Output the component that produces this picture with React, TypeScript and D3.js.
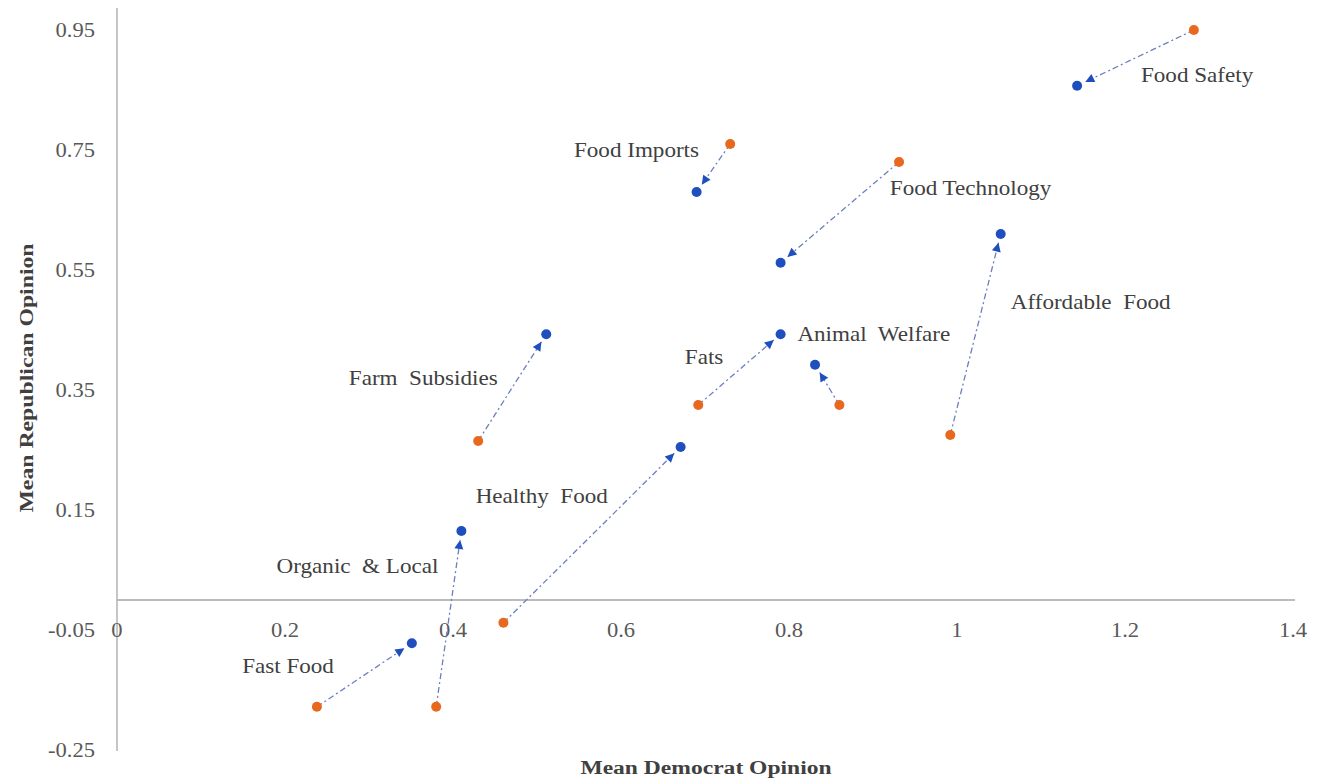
import React from "react";
import * as d3 from "d3";

const topics = [
  "Food Safety",
  "Food Imports",
  "Food Technology",
  "Affordable  Food",
  "Farm  Subsidies",
  "Fats",
  "Animal  Welfare",
  "Healthy  Food",
  "Organic  & Local",
  "Fast Food",
];
// start (orange) points
const startDem = [1.282, 0.73, 0.931, 0.992, 0.43, 0.692, 0.86, 0.46, 0.38, 0.238];
const startRep = [0.95, 0.76, 0.73, 0.275, 0.265, 0.325, 0.325, -0.038, -0.178, -0.178];
// end (blue) points
const endDem = [1.143, 0.69, 0.79, 1.052, 0.511, 0.79, 0.831, 0.671, 0.41, 0.351];
const endRep = [0.857, 0.68, 0.562, 0.61, 0.443, 0.443, 0.392, 0.255, 0.115, -0.072];
// label anchor in data units
const labelDem = [1.219, 0.544, 0.92, 1.064, 0.276, 0.676, 0.81, 0.427, 0.19, 0.149];
const labelRep = [0.875, 0.75, 0.687, 0.497, 0.37, 0.405, 0.443, 0.173, 0.057, -0.11];

const xTicks = [0, 0.2, 0.4, 0.6, 0.8, 1, 1.2, 1.4];
const yTicks = [-0.25, -0.05, 0.15, 0.35, 0.55, 0.75, 0.95];

const W = 1327;
const H = 780;
const FONT = "'Liberation Serif', 'Times New Roman', serif";
const ORANGE = "#E8681E";
const BLUE = "#1F4FBF";
const LINE = "#6C7FC0";
const AXIS = "#A6A6A6";
const SX = 1.1;

export default function App() {
  const x = d3.scaleLinear().domain([0, 1.4]).range([117, 1293]);
  const y = d3.scaleLinear().domain([-0.25, 0.95]).range([750, 30]);

  const pairs = topics.map((t, i) => {
    const x1 = x(startDem[i]);
    const y1 = y(startRep[i]);
    const x2 = x(endDem[i]);
    const y2 = y(endRep[i]);
    const len = Math.hypot(x2 - x1, y2 - y1);
    const ux = (x2 - x1) / len;
    const uy = (y2 - y1) / len;
    const gap = 9;
    return { t, x1, y1, x2, y2, ex: x2 - ux * gap, ey: y2 - uy * gap, ux, uy, i };
  });

  return (
    <svg
      width={W}
      height={H}
      style={{ position: "absolute", left: 0, top: 0, display: "block", background: "#fff" }}
    >
      {/* axes */}
      <line x1={x(0)} x2={x(0)} y1={8} y2={751} stroke={AXIS} strokeWidth={1.3} />
      <line x1={x(0)} x2={x(1.4) + 2} y1={y(0)} y2={y(0)} stroke={AXIS} strokeWidth={1.3} />

      {yTicks.map((v) => (
        <text
          key={"y" + v}
          transform={`translate(95,${y(v)}) scale(1.13,1)`}
          textAnchor="end"
          dominantBaseline="central"
          fontFamily={FONT}
          fontSize={20}
          fill="#595959"
        >
          {String(v)}
        </text>
      ))}
      {xTicks.map((v) => (
        <text
          key={"x" + v}
          transform={`translate(${x(v)},${y(-0.05)}) scale(1.13,1)`}
          textAnchor="middle"
          dominantBaseline="central"
          fontFamily={FONT}
          fontSize={20}
          fill="#595959"
        >
          {String(v)}
        </text>
      ))}

      {/* axis titles */}
      <text
        transform={`translate(706,768) scale(1.24,1)`}
        textAnchor="middle"
        dominantBaseline="central"
        fontFamily={FONT}
        fontSize={19}
        fontWeight="bold"
        fill="#404040"
      >
        Mean Democrat Opinion
      </text>
      <text
        transform={`translate(27,378) rotate(-90) scale(1.25,1)`}
        textAnchor="middle"
        dominantBaseline="central"
        fontFamily={FONT}
        fontSize={19}
        fontWeight="bold"
        fill="#404040"
      >
        Mean Republican Opinion
      </text>

      {/* arrows */}
      {pairs.map((p) => {
        const ang = (Math.atan2(p.uy, p.ux) * 180) / Math.PI;
        return (
          <g key={"a" + p.i}>
            <line
              x1={p.x1}
              y1={p.y1}
              x2={p.ex}
              y2={p.ey}
              stroke={LINE}
              strokeWidth={1.3}
              strokeDasharray="6,3,2,3"
            />
            <path
              d="M0,0 L-9,-4.5 L-9,4.5 Z"
              fill={BLUE}
              transform={`translate(${p.ex},${p.ey}) rotate(${ang})`}
            />
          </g>
        );
      })}

      {/* points */}
      {pairs.map((p) => (
        <g key={"p" + p.i}>
          <circle cx={p.x1} cy={p.y1} r={5} fill={ORANGE} />
          <circle cx={p.x2} cy={p.y2} r={5} fill={BLUE} />
        </g>
      ))}

      {/* labels */}
      {topics.map((t, i) => (
        <text
          key={"l" + i}
          transform={`translate(${x(labelDem[i])},${y(labelRep[i])}) scale(${SX},1)`}
          textAnchor="start"
          dominantBaseline="central"
          fontFamily={FONT}
          fontSize={21}
          fill="#404040"
          style={{ whiteSpace: "pre" }}
        >
          {t}
        </text>
      ))}
    </svg>
  );
}
